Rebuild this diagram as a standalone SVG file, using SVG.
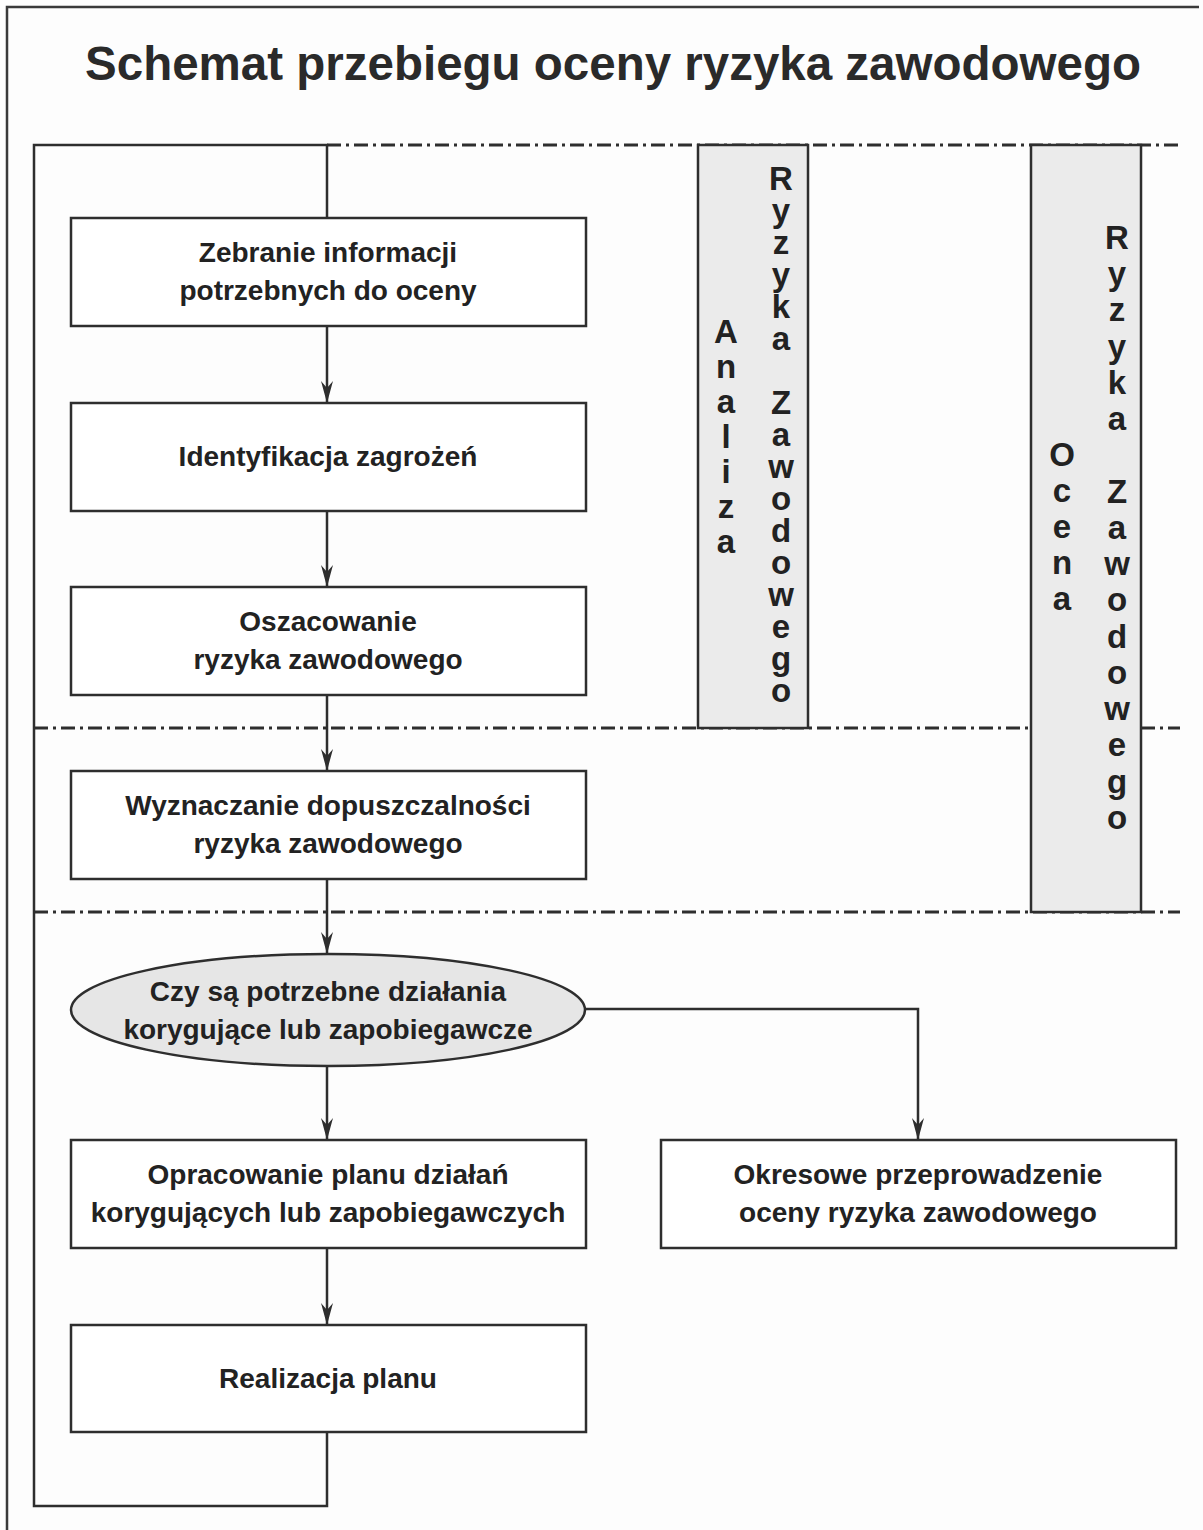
<svg xmlns="http://www.w3.org/2000/svg" width="1203" height="1530" viewBox="0 0 1203 1530">
<defs>
<style>
.bg{fill:#fdfdfd}
.frame{fill:none;stroke:#3a3a3a;stroke-width:2.5}
.box{fill:#ffffff;stroke:#2e2e2e;stroke-width:2.5}
.col{fill:#ebebeb;stroke:#2e2e2e;stroke-width:2.5}
.ell{fill:#e6e6e6;stroke:#2e2e2e;stroke-width:2.5}
.line{fill:none;stroke:#2e2e2e;stroke-width:2.5}
.dd{fill:none;stroke:#2e2e2e;stroke-width:3;stroke-dasharray:14 5 3 5}
.t{font-family:"Liberation Sans",Arial,sans-serif;font-weight:bold;font-size:28px;fill:#222;text-anchor:middle}
.title{font-family:"Liberation Sans",Arial,sans-serif;font-weight:bold;font-size:47.5px;fill:#2a2a2a;text-anchor:middle}
.v{font-family:"Liberation Sans",Arial,sans-serif;font-weight:bold;font-size:33px;fill:#222;text-anchor:middle}
</style>
<marker id="arr" markerUnits="userSpaceOnUse" markerWidth="22" markerHeight="12" viewBox="0 -6 22 12" refX="22" refY="0" orient="auto">
<path d="M0,-6 L22,0 L0,6 L7,0 Z" fill="#2e2e2e"/>
</marker>
</defs>
<rect class="bg" x="0" y="0" width="1203" height="1530"/>
<path class="frame" d="M7,1530 V7 H1199"/>
<text class="title" x="613" y="80">Schemat przebiegu oceny ryzyka zawodowego</text>

<g id="separators">
<line class="dd" x1="327" y1="145" x2="1180" y2="145"/>
<line class="dd" x1="34" y1="728" x2="1180" y2="728"/>
<line class="dd" x1="34" y1="912" x2="1180" y2="912"/>
</g>

<g id="col-analiza">
<rect class="col" x="698" y="145" width="110" height="583"/>
<text class="v"><tspan x="726" y="343">A</tspan><tspan x="726" y="378">n</tspan><tspan x="726" y="413">a</tspan><tspan x="726" y="448">l</tspan><tspan x="726" y="483">i</tspan><tspan x="726" y="518">z</tspan><tspan x="726" y="553">a</tspan></text>
<text class="v"><tspan x="781" y="190">R</tspan><tspan x="781" y="222">y</tspan><tspan x="781" y="254">z</tspan><tspan x="781" y="286">y</tspan><tspan x="781" y="318">k</tspan><tspan x="781" y="350">a</tspan><tspan x="781" y="414">Z</tspan><tspan x="781" y="446">a</tspan><tspan x="781" y="478">w</tspan><tspan x="781" y="510">o</tspan><tspan x="781" y="542">d</tspan><tspan x="781" y="574">o</tspan><tspan x="781" y="606">w</tspan><tspan x="781" y="638">e</tspan><tspan x="781" y="670">g</tspan><tspan x="781" y="702">o</tspan></text>
</g>

<g id="col-ocena">
<rect class="col" x="1031" y="145" width="110" height="767"/>
<text class="v"><tspan x="1062" y="466">O</tspan><tspan x="1062" y="502">c</tspan><tspan x="1062" y="538">e</tspan><tspan x="1062" y="574">n</tspan><tspan x="1062" y="610">a</tspan></text>
<text class="v"><tspan x="1117" y="249">R</tspan><tspan x="1117" y="285">y</tspan><tspan x="1117" y="321">z</tspan><tspan x="1117" y="358">y</tspan><tspan x="1117" y="394">k</tspan><tspan x="1117" y="430">a</tspan><tspan x="1117" y="503">Z</tspan><tspan x="1117" y="539">a</tspan><tspan x="1117" y="575">w</tspan><tspan x="1117" y="611">o</tspan><tspan x="1117" y="648">d</tspan><tspan x="1117" y="684">o</tspan><tspan x="1117" y="720">w</tspan><tspan x="1117" y="756">e</tspan><tspan x="1117" y="793">g</tspan><tspan x="1117" y="829">o</tspan></text>
</g>

<g id="connectors">
<path class="line" d="M327,1432 V1506 H34 V145 H327 V218"/>
<line class="line" x1="327" y1="326" x2="327" y2="403" marker-end="url(#arr)"/>
<line class="line" x1="327" y1="511" x2="327" y2="587" marker-end="url(#arr)"/>
<line class="line" x1="327" y1="695" x2="327" y2="771" marker-end="url(#arr)"/>
<line class="line" x1="327" y1="879" x2="327" y2="954" marker-end="url(#arr)"/>
<line class="line" x1="327" y1="1066" x2="327" y2="1140" marker-end="url(#arr)"/>
<line class="line" x1="327" y1="1248" x2="327" y2="1325" marker-end="url(#arr)"/>
<path class="line" d="M585,1009 H918 V1140" marker-end="url(#arr)"/>
</g>

<g id="n1">
<rect class="box" x="71" y="218" width="515" height="108"/>
<text class="t" x="328" y="262">Zebranie informacji</text>
<text class="t" x="328" y="300">potrzebnych do oceny</text>
</g>
<g id="n2">
<rect class="box" x="71" y="403" width="515" height="108"/>
<text class="t" x="328" y="466">Identyfikacja zagrożeń</text>
</g>
<g id="n3">
<rect class="box" x="71" y="587" width="515" height="108"/>
<text class="t" x="328" y="631">Oszacowanie</text>
<text class="t" x="328" y="669">ryzyka zawodowego</text>
</g>
<g id="n4">
<rect class="box" x="71" y="771" width="515" height="108"/>
<text class="t" x="328" y="815">Wyznaczanie dopuszczalności</text>
<text class="t" x="328" y="853">ryzyka zawodowego</text>
</g>
<g id="n5">
<ellipse class="ell" cx="328" cy="1010" rx="257" ry="56"/>
<text class="t" x="328" y="1001">Czy są potrzebne działania</text>
<text class="t" x="328" y="1039">korygujące lub zapobiegawcze</text>
</g>
<g id="n6">
<rect class="box" x="71" y="1140" width="515" height="108"/>
<text class="t" x="328" y="1184">Opracowanie planu działań</text>
<text class="t" x="328" y="1222">korygujących lub zapobiegawczych</text>
</g>
<g id="n7">
<rect class="box" x="661" y="1140" width="515" height="108"/>
<text class="t" x="918" y="1184">Okresowe przeprowadzenie</text>
<text class="t" x="918" y="1222">oceny ryzyka zawodowego</text>
</g>
<g id="n8">
<rect class="box" x="71" y="1325" width="515" height="107"/>
<text class="t" x="328" y="1388">Realizacja planu</text>
</g>
</svg>
